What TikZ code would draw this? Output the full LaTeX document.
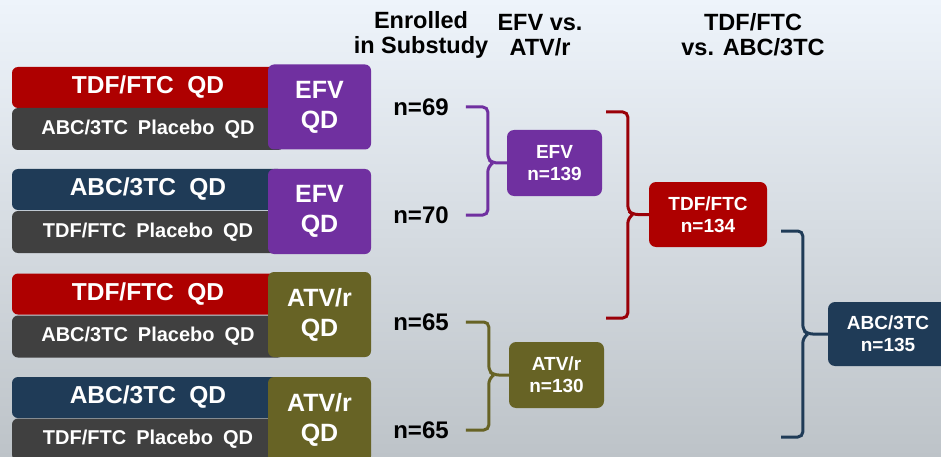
\documentclass[tikz,border=0pt]{standalone}
\usepackage{fontspec}
\setmainfont{Liberation Sans}
\usetikzlibrary{calc}
\definecolor{cred}{HTML}{AE0000}
\definecolor{cdred}{HTML}{9A0008}
\definecolor{cgray}{HTML}{404040}
\definecolor{cnavy}{HTML}{1F3B57}
\definecolor{cpurple}{HTML}{7030A0}
\definecolor{colive}{HTML}{676325}
\definecolor{bgtop}{HTML}{EEF4FB}
\definecolor{bgbot}{HTML}{BDC3C8}
\tikzset{
  drug/.style={rounded corners=6pt, minimum width=272pt, minimum height=41pt,
    inner sep=0pt, text=white, font=\bfseries\fontsize{24.5}{24.5}\selectfont},
  plac/.style={drug, fill=cgray, minimum height=42pt,
    font=\bfseries\fontsize{20}{20}\selectfont},
  third/.style={rounded corners=6pt, minimum width=103pt, minimum height=85pt,
    inner sep=0pt, text=white, align=center,
    font=\bfseries\fontsize{25}{30}\selectfont},
  pool/.style={rounded corners=7pt, inner sep=0pt, text=white, align=center,
    font=\bfseries\fontsize{19}{22}\selectfont},
  head/.style={align=center, font=\bfseries\fontsize{23.5}{25}\selectfont},
  count/.style={inner sep=0pt, font=\bfseries\fontsize{24}{24}\selectfont},
  brk/.style={line width=3pt, rounded corners=5pt}
}
\begin{document}
\begin{tikzpicture}[x=1pt,y=-1pt]
\useasboundingbox (0,0) rectangle (941,457);
\shade[top color=bgtop, bottom color=bgbot] (0,0) rectangle (941,457);
% column heads
\node[head] (hsub) at (421,35) {Enrolled\\in Substudy};
\node[head] (hthird) at (540,35) {EFV vs.\\ATV/r};
\node[head] (hback) at (753,35) {TDF/FTC\\vs. ABC/3TC};
% randomised arms
\node[drug,fill=cred] (a1) at (148,87.5) {TDF/FTC\hspace{0.55em}QD};
\node[plac] (a1p) at (148,129) {ABC/3TC\hspace{0.5em}Placebo\hspace{0.5em}QD};
\node[third,fill=cpurple] (a1t) at (319.5,107) {EFV\\QD};
\node[drug,fill=cnavy] (a2) at (148,189.5) {ABC/3TC\hspace{0.55em}QD};
\node[plac] (a2p) at (148,232) {TDF/FTC\hspace{0.5em}Placebo\hspace{0.5em}QD};
\node[third,fill=cpurple] (a2t) at (319.5,211.5) {EFV\\QD};
\node[drug,fill=cred] (a3) at (148,294) {TDF/FTC\hspace{0.55em}QD};
\node[plac] (a3p) at (148,336.5) {ABC/3TC\hspace{0.5em}Placebo\hspace{0.5em}QD};
\node[third,fill=colive] (a3t) at (319.5,314.5) {ATV/r\\QD};
\node[drug,fill=cnavy] (a4) at (148,397.5) {ABC/3TC\hspace{0.55em}QD};
\node[plac] (a4p) at (148,439.5) {TDF/FTC\hspace{0.5em}Placebo\hspace{0.5em}QD};
\node[third,fill=colive] (a4t) at (319.5,419.5) {ATV/r\\QD};
% counts
\node[count] (n69) at (421,107) {n=69};
\node[count] (n70) at (421,215) {n=70};
\node[count] (n65a) at (421,322) {n=65};
\node[count] (n65b) at (421,430) {n=65};
% pooled groups
\node[pool,fill=cpurple,minimum width=95pt,minimum height=66pt] (efv) at (554.5,163) {EFV\\n=139};
\node[pool,fill=colive,minimum width=95pt,minimum height=66pt] (atv) at (556.5,375) {ATV/r\\n=130};
\node[pool,fill=cred,minimum width=118pt,minimum height=65pt] (tdf) at (708,214.5) {TDF/FTC\\n=134};
\node[pool,fill=cnavy,minimum width=120pt,minimum height=64pt] (abc) at (888,334) {ABC/3TC\\n=135};
% brackets
\draw[brk,cpurple] ([xshift=17pt]n69.east) -| ([xshift=-19pt,yshift=4pt]efv.west)
      -- ([xshift=-14pt]efv.west) -- (efv.west);
\draw[brk,cpurple] ([xshift=17pt]n70.east) -| ([xshift=-19pt,yshift=-4pt]efv.west)
      -- ([xshift=-14pt]efv.west);
\draw[brk,colive] ([xshift=17pt]n65a.east) -| ([xshift=-20pt,yshift=4pt]atv.west)
      -- ([xshift=-15pt]atv.west) -- (atv.west);
\draw[brk,colive] ([xshift=17pt]n65b.east) -| ([xshift=-20pt,yshift=-4pt]atv.west)
      -- ([xshift=-15pt]atv.west);
\coordinate (rtop) at (606,112);
\coordinate (rbot) at (606,318);
\draw[brk,cdred] (rtop) -| ([xshift=-21pt,yshift=4pt]tdf.west)
      -- ([xshift=-16pt]tdf.west) -- (tdf.west);
\draw[brk,cdred] (rbot) -| ([xshift=-21pt,yshift=-4pt]tdf.west)
      -- ([xshift=-16pt]tdf.west);
\coordinate (ntop) at (781,231);
\coordinate (nbot) at (781,437);
\draw[brk,cnavy] (ntop) -| ([xshift=-25pt,yshift=4pt]abc.west)
      -- ([xshift=-20pt]abc.west) -- (abc.west);
\draw[brk,cnavy] (nbot) -| ([xshift=-25pt,yshift=-4pt]abc.west)
      -- ([xshift=-20pt]abc.west);
\end{tikzpicture}
\end{document}
